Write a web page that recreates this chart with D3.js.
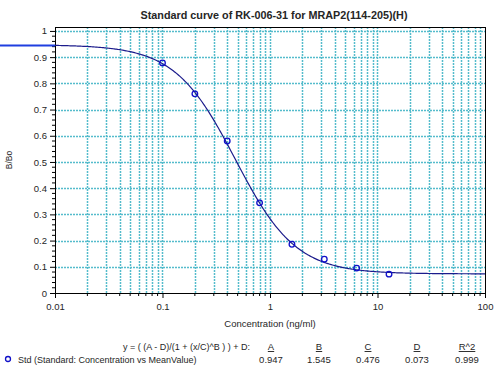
<!DOCTYPE html>
<html>
<head>
<meta charset="utf-8">
<script src="https://cdn.jsdelivr.net/npm/d3@7"></script>
<style>
  body { margin: 0; background: #fff; }
  text { font-family: Arial, "Liberation Sans", sans-serif; fill: #262626; }
</style>
</head>
<body>
<div id="chart"></div>
<script>
// standard points (concentration ng/ml vs B/Bo)
const concentrations = [0.1, 0.2, 0.4, 0.8, 1.6, 3.2, 6.4, 12.8];
const meanValues = [0.878, 0.760, 0.580, 0.344, 0.186, 0.129, 0.095, 0.072];

// 4PL fit parameters shown under the chart
const paramNames = ['A', 'B', 'C', 'D', 'R^2'];
const paramValues = ['0.947', '1.545', '0.476', '0.073', '0.999'];
const fit = { A: 0.947, B: 1.545, C: 0.476, D: 0.073 };

const xTickValues = [0.01, 0.1, 1, 10, 100];
const xTickLabels = ['0.01', '0.1', '1', '10', '100'];
const yTickValues = [0, 0.1, 0.2, 0.3, 0.4, 0.5, 0.6, 0.7, 0.8, 0.9, 1];

const width = 500, height = 372;
const plot = { left: 55, right: 485, top: 27, bottom: 293 };

const svg = d3.select('#chart').append('svg')
  .attr('width', width)
  .attr('height', height);

const x = d3.scaleLog().domain([0.01, 100]).range([plot.left, plot.right]);
const y = d3.scaleLinear().domain([0, 1.015]).range([plot.bottom, plot.top]);

// grid
const minorX = [];
for (let e = -2; e < 2; e++) {
  for (let m = 1; m < 10; m++) minorX.push(m * Math.pow(10, e));
}
minorX.push(100);

const gridColor = '#55bccc';
const grid = svg.append('g').attr('class', 'grid');
grid.selectAll('line.vx')
  .data(minorX.filter(v => v > 0.01 && v < 100))
  .enter().append('line')
  .attr('x1', d => Math.round(x(d)) + 0.5).attr('x2', d => Math.round(x(d)) + 0.5)
  .attr('y1', plot.top).attr('y2', plot.bottom)
  .attr('stroke', gridColor)
  .attr('stroke-width', 1.5)
  .attr('stroke-dasharray', '2,1');

grid.selectAll('line.hy')
  .data(yTickValues.filter(v => v > 0))
  .enter().append('line')
  .attr('x1', plot.left).attr('x2', plot.right)
  .attr('y1', d => Math.round(y(d)) + 0.5).attr('y2', d => Math.round(y(d)) + 0.5)
  .attr('stroke', gridColor)
  .attr('stroke-width', 1.5)
  .attr('stroke-dasharray', '2,1');

// plot border
svg.append('rect')
  .attr('x', plot.left + 0.5).attr('y', plot.top + 0.5)
  .attr('width', plot.right - plot.left)
  .attr('height', plot.bottom - plot.top)
  .attr('fill', 'none')
  .attr('stroke', '#000')
  .attr('stroke-width', 1);

// axes
const xAxis = d3.axisBottom(x)
  .tickValues(xTickValues)
  .tickFormat((d, i) => xTickLabels[i])
  .tickSize(5);
const gx = svg.append('g')
  .attr('transform', `translate(0,${plot.bottom})`)
  .call(xAxis);
gx.select('.domain').remove();
gx.selectAll('text').attr('font-size', 9.5).attr('dy', '0.95em');

svg.append('g')
  .attr('transform', `translate(0,${plot.bottom})`)
  .selectAll('line')
  .data(minorX.filter(v => !xTickValues.includes(v)))
  .enter().append('line')
  .attr('x1', d => x(d)).attr('x2', d => x(d))
  .attr('y1', 0).attr('y2', 3)
  .attr('stroke', '#000');

const yAxis = d3.axisLeft(y)
  .tickValues(yTickValues)
  .tickFormat(d3.format('~g'))
  .tickSize(5);
const gy = svg.append('g')
  .attr('transform', `translate(${plot.left},0)`)
  .call(yAxis);
gy.select('.domain').remove();
gy.selectAll('text').attr('font-size', 9.5);

svg.append('g')
  .attr('transform', `translate(${plot.left},0)`)
  .selectAll('line')
  .data(d3.range(0, 50).map(i => i * 0.02).filter((v, i) => i % 5 !== 0))
  .enter().append('line')
  .attr('x1', -3).attr('x2', 0)
  .attr('y1', d => y(d)).attr('y2', d => y(d))
  .attr('stroke', '#000');

// fitted curve
const fourPL = c => (fit.A - fit.D) / (1 + Math.pow(c / fit.C, fit.B)) + fit.D;
const curveX = d3.range(0, 401).map(i => Math.pow(10, -2 + i * 0.01));

svg.append('path')
  .datum(curveX)
  .attr('fill', 'none')
  .attr('stroke', '#1c1c8c')
  .attr('stroke-width', 1.2)
  .attr('d', d3.line().x(d => x(d)).y(d => y(fourPL(d))));

// curve extension to the left edge
svg.append('line')
  .attr('x1', 0).attr('x2', plot.left)
  .attr('y1', y(fourPL(0.01))).attr('y2', y(fourPL(0.01)))
  .attr('stroke', '#1f3fe0')
  .attr('stroke-width', 2);

// points
svg.append('g')
  .selectAll('circle')
  .data(concentrations)
  .enter().append('circle')
  .attr('cx', d => x(d))
  .attr('cy', (d, i) => y(meanValues[i]))
  .attr('r', 2.8)
  .attr('fill', 'none')
  .attr('stroke', '#1010c8')
  .attr('stroke-width', 1.3);

// titles
svg.append('text')
  .attr('x', 274).attr('y', 19)
  .attr('text-anchor', 'middle')
  .attr('font-size', 10.8)
  .attr('font-weight', 'bold')
  .text('Standard curve of RK-006-31 for MRAP2(114-205)(H)');

svg.append('text')
  .attr('transform', 'translate(12,160) rotate(-90)')
  .attr('text-anchor', 'middle')
  .attr('font-size', 8.5)
  .text('B/Bo');

svg.append('text')
  .attr('x', 270).attr('y', 327)
  .attr('text-anchor', 'middle')
  .attr('font-size', 9.5)
  .text('Concentration (ng/ml)');

// equation and parameters
svg.append('text')
  .attr('x', 250).attr('y', 350)
  .attr('text-anchor', 'end')
  .attr('font-size', 9)
  .text('y = ( (A - D)/(1 + (x/C)^B ) ) + D:');

const paramX = [271, 319, 368, 417, 467];
svg.selectAll('text.pname')
  .data(paramNames)
  .enter().append('text')
  .attr('class', 'pname')
  .attr('x', (d, i) => paramX[i]).attr('y', 350)
  .attr('text-anchor', 'middle')
  .attr('font-size', 9.5)
  .attr('text-decoration', 'underline')
  .text(d => d);

svg.selectAll('text.pval')
  .data(paramValues)
  .enter().append('text')
  .attr('class', 'pval')
  .attr('x', (d, i) => paramX[i]).attr('y', 363)
  .attr('text-anchor', 'middle')
  .attr('font-size', 9.5)
  .text(d => d);

// legend
svg.append('circle')
  .attr('cx', 8).attr('cy', 359)
  .attr('r', 2.5)
  .attr('fill', 'none')
  .attr('stroke', '#1010c8')
  .attr('stroke-width', 1.3);
svg.append('text')
  .attr('x', 18).attr('y', 363)
  .attr('font-size', 9)
  .text('Std (Standard: Concentration vs MeanValue)');
</script>
</body>
</html>
